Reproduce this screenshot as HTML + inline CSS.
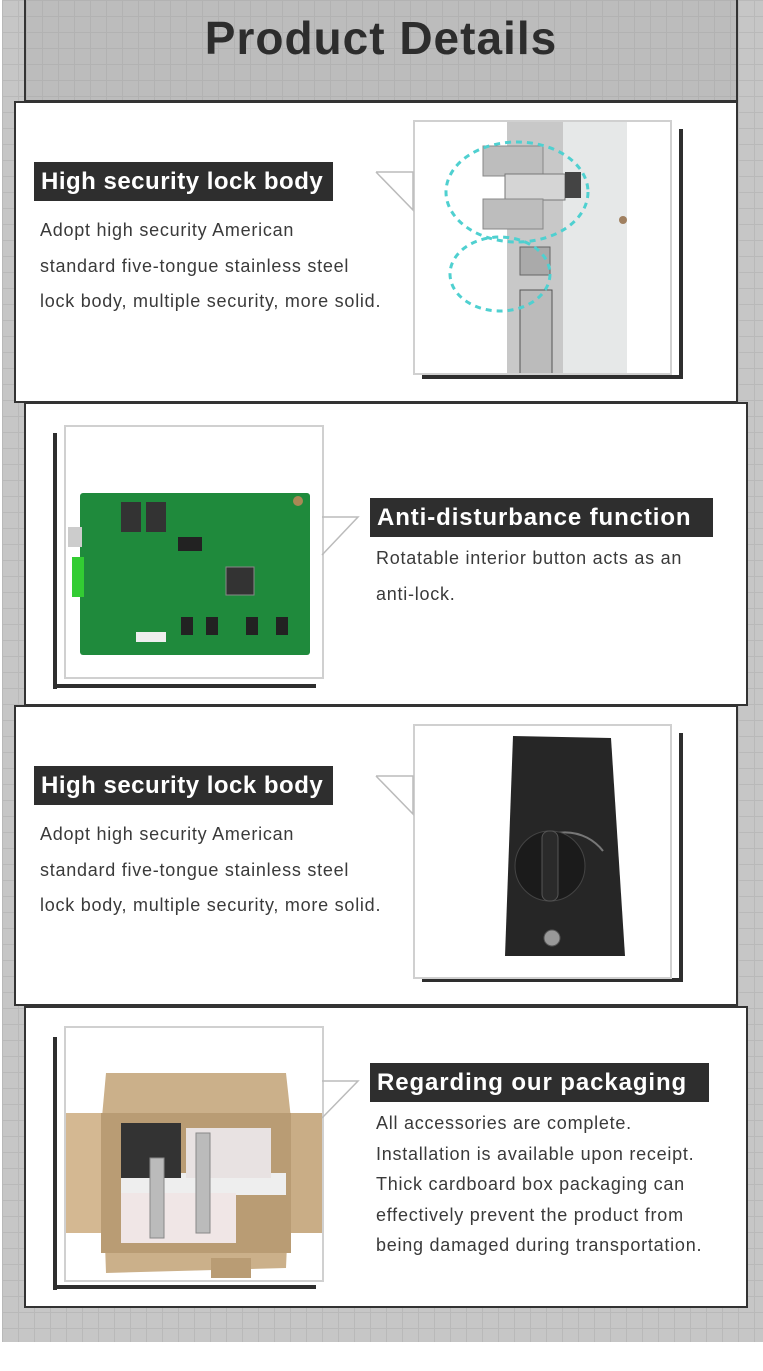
<!DOCTYPE html>
<html><head><meta charset="utf-8">
<style>
*{margin:0;padding:0;box-sizing:border-box}
html,body{width:763px;height:1371px;background:#fff;overflow:hidden;font-family:"Liberation Sans",sans-serif}
#bg{position:absolute;left:2px;top:0;width:761px;height:1342px;background-color:#c6c6c6;
background-image:linear-gradient(#b9b9b9 1px,transparent 1px),linear-gradient(90deg,#b9b9b9 1px,transparent 1px);background-size:16px 16px}
.hdr{position:absolute;left:24px;top:0;width:714px;height:102px;background:#bcbcbc;border-left:2px solid #333;border-right:2px solid #333;border-bottom:2px solid #333;
background-image:linear-gradient(#b2b2b2 1px,transparent 1px),linear-gradient(90deg,#b2b2b2 1px,transparent 1px);background-size:16px 16px}
.hdr h1{position:absolute;left:0;right:0;top:11px;text-align:center;font-size:46px;font-weight:bold;color:#2d2d2d;letter-spacing:1px}
.card{position:absolute;background:#fff;border:2px solid #333}
.pill{position:absolute;background:#2e2e2e;color:#fff;font-weight:bold;font-size:24px;height:39px;line-height:39px;padding:0 7px;letter-spacing:0.5px;white-space:nowrap;overflow:hidden}
.txt{position:absolute;color:#3a3a3a;font-size:18px;letter-spacing:0.75px;white-space:nowrap}
.frame{position:absolute;border:2px solid #d0d0d0;background:#fff;overflow:hidden}
.sh{position:absolute;background:#2e2e2e}
svg{position:absolute;left:0;top:0}
</style></head><body>
<div id="bg"></div>
<div class="hdr"><h1>Product Details</h1></div>

<!-- card1 -->
<div class="card" style="left:14px;top:101px;width:724px;height:302px"></div>
<div class="pill" style="left:34px;top:162px;width:299px">High security lock body</div>
<div class="txt" style="left:40px;top:213px;line-height:35.5px">Adopt high security American<br>standard five-tongue stainless steel<br>lock body, multiple security, more solid.</div>
<div class="sh" style="left:679px;top:129px;width:4px;height:249px"></div>
<div class="sh" style="left:422px;top:375px;width:261px;height:4px"></div>
<svg width="763" height="1371" style="z-index:1;pointer-events:none">
<polyline points="376,172 413,172 413,210 376,172" fill="none" stroke="#bbb" stroke-width="1.5"/>
<polyline points="322,517 358,517 322,555" fill="none" stroke="#bbb" stroke-width="1.5"/>
<polyline points="376,776 413,776 413,814 376,776" fill="none" stroke="#bbb" stroke-width="1.5"/>
<polyline points="322,1081 358,1081 322,1118" fill="none" stroke="#bbb" stroke-width="1.5"/>
</svg>
<div class="frame" style="left:413px;top:120px;width:259px;height:255px">
<svg width="259" height="255">
<rect x="92" y="0" width="56" height="255" fill="#c8c8c8"/>
<rect x="148" y="0" width="64" height="255" fill="#e6e8e8"/>
<rect x="68" y="24" width="60" height="30" fill="#bdbdbd" stroke="#888"/>
<rect x="90" y="52" width="60" height="26" fill="#d5d5d5" stroke="#777"/>
<rect x="150" y="50" width="16" height="26" fill="#444"/>
<rect x="68" y="77" width="60" height="30" fill="#bdbdbd" stroke="#888"/>
<rect x="105" y="125" width="30" height="28" fill="#aaa" stroke="#666"/>
<rect x="105" y="168" width="32" height="85" fill="#bbb" stroke="#555"/>
<circle cx="208" cy="98" r="4" fill="#a08060"/>
<ellipse cx="102" cy="70" rx="71" ry="50" fill="none" stroke="#4fd0d0" stroke-width="3" stroke-dasharray="6,5"/>
<ellipse cx="85" cy="152" rx="50" ry="37" fill="none" stroke="#4fd0d0" stroke-width="3" stroke-dasharray="6,5"/>
</svg></div>

<!-- card2 -->
<div class="card" style="left:24px;top:402px;width:724px;height:304px"></div>
<div class="sh" style="left:53px;top:433px;width:4px;height:256px"></div>
<div class="sh" style="left:53px;top:684px;width:263px;height:4px"></div>
<div class="frame" style="left:64px;top:425px;width:260px;height:254px">
<svg width="260" height="254">
<rect x="14" y="66" width="230" height="162" rx="3" fill="#1f8a3c"/>
<rect x="2" y="100" width="14" height="20" fill="#ccc"/>
<rect x="6" y="130" width="12" height="40" fill="#3c3"/>
<rect x="55" y="75" width="20" height="30" fill="#333"/><rect x="80" y="75" width="20" height="30" fill="#333"/>
<rect x="160" y="140" width="28" height="28" fill="#333" stroke="#888"/>
<rect x="112" y="110" width="24" height="14" fill="#222"/>
<rect x="210" y="190" width="12" height="18" fill="#222"/><rect x="180" y="190" width="12" height="18" fill="#222"/><rect x="140" y="190" width="12" height="18" fill="#222"/><rect x="115" y="190" width="12" height="18" fill="#222"/>
<rect x="70" y="205" width="30" height="10" fill="#eee"/>
<circle cx="232" cy="74" r="5" fill="#a85"/>
</svg></div>
<div class="pill" style="left:370px;top:498px;width:343px;letter-spacing:0.9px">Anti-disturbance function</div>
<div class="txt" style="left:376px;top:541px;line-height:35.5px">Rotatable interior button acts as an<br>anti-lock.</div>

<!-- card3 -->
<div class="card" style="left:14px;top:705px;width:724px;height:301px"></div>
<div class="pill" style="left:34px;top:766px;width:299px">High security lock body</div>
<div class="txt" style="left:40px;top:817px;line-height:35.5px">Adopt high security American<br>standard five-tongue stainless steel<br>lock body, multiple security, more solid.</div>
<div class="sh" style="left:679px;top:733px;width:4px;height:249px"></div>
<div class="sh" style="left:422px;top:978px;width:261px;height:4px"></div>
<div class="frame" style="left:413px;top:724px;width:259px;height:255px">
<svg width="259" height="255">
<polygon points="98,10 196,12 210,230 90,230" fill="#262626"/>
<path d="M112,125 A48,48 0 0 1 188,125" fill="none" stroke="#777" stroke-width="2"/>
<circle cx="135" cy="140" r="35" fill="#1b1b1b" stroke="#444"/>
<rect x="127" y="105" width="16" height="70" rx="7" fill="#2a2a2a" stroke="#555"/>
<circle cx="137" cy="212" r="8" fill="#999" stroke="#555"/>
</svg></div>

<!-- card4 -->
<div class="card" style="left:24px;top:1006px;width:724px;height:302px"></div>
<div class="sh" style="left:53px;top:1037px;width:4px;height:253px"></div>
<div class="sh" style="left:53px;top:1285px;width:263px;height:4px"></div>
<div class="frame" style="left:64px;top:1026px;width:260px;height:256px">
<svg width="260" height="256">
<polygon points="40,45 220,45 226,100 220,240 40,245 35,100" fill="#cbb08a"/>
<rect x="0" y="85" width="35" height="120" fill="#d4b892"/>
<rect x="225" y="85" width="35" height="120" fill="#c9ad86"/>
<rect x="35" y="85" width="190" height="140" fill="#b99c74"/>
<rect x="55" y="145" width="165" height="22" fill="#eee"/>
<rect x="55" y="95" width="60" height="55" fill="#333"/>
<rect x="120" y="100" width="85" height="50" fill="#e8e2e2"/>
<rect x="55" y="165" width="115" height="50" fill="#f0e6e6"/>
<rect x="130" y="105" width="14" height="100" fill="#bbb" stroke="#888"/>
<rect x="84" y="130" width="14" height="80" fill="#bbb" stroke="#888"/>
<rect x="145" y="230" width="40" height="20" fill="#b99c74"/>
</svg></div>
<div class="pill" style="left:370px;top:1063px;width:339px;letter-spacing:0.9px">Regarding our packaging</div>
<div class="txt" style="left:376px;top:1108px;line-height:30.5px">All accessories are complete.<br>Installation is available upon receipt.<br>Thick cardboard box packaging can<br>effectively prevent the product from<br>being damaged during transportation.</div>
</body></html>
